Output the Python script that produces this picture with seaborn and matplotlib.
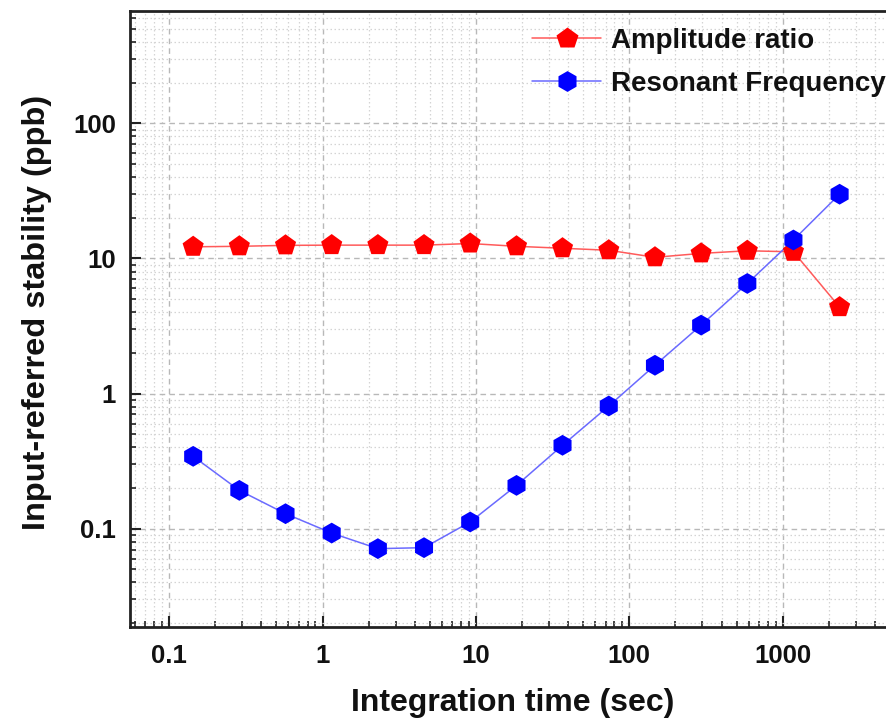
import numpy as np
import pandas as pd
import seaborn as sns
import matplotlib
matplotlib.use("Agg")
import matplotlib.pyplot as plt
from matplotlib.lines import Line2D
from matplotlib.ticker import LogLocator, FixedLocator, FixedFormatter, NullFormatter

# ---- data ----
tau = [0.1435, 0.287, 0.574, 1.148, 2.296, 4.59, 9.18, 18.4, 36.7, 73.5,
       147, 294, 588, 1175, 2350]
amplitude_ratio = [12.2, 12.3, 12.5, 12.55, 12.55, 12.55, 12.9, 12.3, 11.9,
                   11.5, 10.2, 10.9, 11.4, 11.2, 4.36]
resonant_freq = [0.343, 0.192, 0.129, 0.0927, 0.0711, 0.0723, 0.112, 0.209,
                 0.414, 0.809, 1.62, 3.21, 6.53, 13.7, 29.9]
series_names = ["Amplitude ratio", "Resonant Frequency"]
x_ticks = [0.1, 1, 10, 100, 1000]
x_ticklabels = ["0.1", "1", "10", "100", "1000"]
y_ticks = [0.1, 1, 10, 100]
y_ticklabels = ["0.1", "1", "10", "100"]

df = pd.DataFrame({
    "tau": tau * 2,
    "value": amplitude_ratio + resonant_freq,
    "series": [series_names[0]] * len(tau) + [series_names[1]] * len(tau),
})

sns.set_style("ticks")
plt.rcParams["font.family"] = ["Liberation Sans", "DejaVu Sans"]

W, H = 887, 720
fig = plt.figure(figsize=(W / 100, H / 100), dpi=100)
ax_left, ax_bottom_px, ax_top_px = 130, 627, 11
ax = fig.add_axes([ax_left / W, 1 - ax_bottom_px / H, 1 - ax_left / W,
                   (ax_bottom_px - ax_top_px) / H])
ax_w = W - ax_left
ax_h = ax_bottom_px - ax_top_px

marker_col = {series_names[0]: "#ff0000", series_names[1]: "#0000ff"}
line_col = {series_names[0]: "#ff5a5a", series_names[1]: "#6a6aff"}
markers = {series_names[0]: "p", series_names[1]: "h"}
msize = {series_names[0]: 16, series_names[1]: 15}

for name in series_names:
    sub = df[df["series"] == name]
    sns.lineplot(data=sub, x="tau", y="value", ax=ax, color=line_col[name],
                 linewidth=1.1, sort=False, legend=False, zorder=3)
    sns.scatterplot(data=sub, x="tau", y="value", ax=ax, marker=markers[name],
                    s=msize[name] ** 2, color=marker_col[name], edgecolor="none",
                    linewidth=0, legend=False, zorder=4)

ax.set_xscale("log")
ax.set_yscale("log")
ax.set_xlim(0.0556, 4786)
ax.set_ylim(0.0187, 679)

ax.xaxis.set_major_locator(FixedLocator(x_ticks))
ax.xaxis.set_major_formatter(FixedFormatter(x_ticklabels))
ax.yaxis.set_major_locator(FixedLocator(y_ticks))
ax.yaxis.set_major_formatter(FixedFormatter(y_ticklabels))
ax.xaxis.set_minor_locator(LogLocator(base=10, subs=np.arange(2, 10), numticks=20))
ax.yaxis.set_minor_locator(LogLocator(base=10, subs=np.arange(2, 10), numticks=20))
ax.xaxis.set_minor_formatter(NullFormatter())
ax.yaxis.set_minor_formatter(NullFormatter())

ax.grid(True, which="major", color="#b8b8b8", linestyle=(0, (4, 3)), linewidth=1.0, zorder=0)
ax.grid(True, which="minor", color="#d4d4d4", linestyle=(0, (1.2, 2)), linewidth=0.9, zorder=0)
ax.set_axisbelow(True)

ax.tick_params(which="major", direction="in", length=8, width=1.5, color="#222222",
               labelsize=18.5, labelcolor="#111111")
ax.tick_params(axis="x", which="major", pad=12)
ax.tick_params(axis="y", which="major", pad=10)
ax.tick_params(which="minor", direction="in", length=4.5, width=1.2, color="#222222")
ax.tick_params(top=False, right=False, which="both")
for lab in ax.get_xticklabels() + ax.get_yticklabels():
    lab.set_fontweight("bold")

for side in ["left", "bottom", "top"]:
    ax.spines[side].set_linewidth(2.0)
    ax.spines[side].set_color("#222222")
ax.spines["right"].set_visible(False)

ax.set_xlabel("Integration time (sec)", fontsize=23, fontweight="bold", color="#111111")
ax.set_ylabel("Input-referred stability (ppb)", fontsize=23.4, fontweight="bold",
              color="#111111")
ax.xaxis.set_label_coords((512.5 - ax_left) / ax_w, -(688 - ax_bottom_px) / ax_h)
ax.yaxis.set_label_coords(-(ax_left - 52) / ax_w, (ax_bottom_px - 312.5) / ax_h)

handles = [
    Line2D([0], [0], color=line_col[n], linewidth=1.1, marker=markers[n],
           markersize=msize[n], markerfacecolor=marker_col[n], markeredgecolor="none")
    for n in series_names
]
leg = ax.legend(handles, series_names, loc="upper left",
                bbox_to_anchor=((532 - ax_left) / ax_w, (ax_bottom_px - 28) / ax_h),
                frameon=False, prop={"size": 20, "weight": "bold"},
                handlelength=2.5, handletextpad=0.36, labelspacing=0.62,
                borderaxespad=0, borderpad=0)
for t in leg.get_texts():
    t.set_color("#111111")

fig.savefig("out.png", dpi=100)
